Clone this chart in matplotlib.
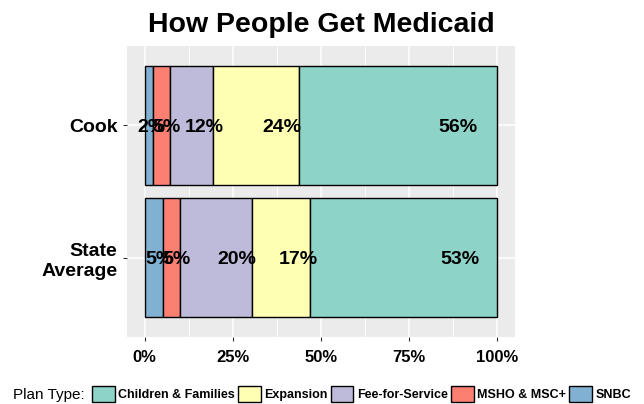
import matplotlib
matplotlib.use("Agg")
import matplotlib.pyplot as plt
from matplotlib.patches import Patch
import numpy as np

plt.rcParams['font.family'] = ['Liberation Sans', 'DejaVu Sans']

# data, drawn left to right inside each bar
categories = ["Cook", "State\nAverage"]
plan_types = ["SNBC", "MSHO & MSC+", "Fee-for-Service", "Expansion", "Children & Families"]
colors = ["#80B1D3", "#FB8072", "#BEBADA", "#FFFFB3", "#8DD3C7"]
cook_vals = [2.3, 4.8, 12.2, 24.4, 56.3]
state_vals = [5.1, 4.8, 20.4, 16.7, 53.0]
cook_labels = ["2%", "5%", "12%", "24%", "56%"]
state_labels = ["5%", "5%", "20%", "17%", "53%"]
legend_order = ["Children & Families", "Expansion", "Fee-for-Service", "MSHO & MSC+", "SNBC"]

fig = plt.figure(figsize=(6.44, 4.04), dpi=100)
ax = fig.add_axes([127/644, 1 - 337/404, (515-127)/644, (337-46)/404])
ax.set_facecolor("#EBEBEB")

ypos = [2, 1]
vals = [cook_vals, state_vals]
labs = [cook_labels, state_labels]
for y, v, lb in zip(ypos, vals, labs):
    left = 0
    for val, col, txt in zip(v, colors, lb):
        ax.barh(y, val, left=left, height=0.9, color=col, edgecolor="black", linewidth=1, zorder=3)
        ax.text(left + 0.8 * val, y, txt, ha="center", va="center_baseline",
                fontsize=14, fontweight="bold", zorder=4)
        left += val

ax.set_xlim(-5, 105)
ax.set_ylim(0.4, 2.6)
ax.set_xticks([0, 25, 50, 75, 100])
ax.set_xticklabels(["0%", "25%", "50%", "75%", "100%"], fontsize=12, fontweight="bold")
ax.set_xticks([12.5, 37.5, 62.5, 87.5], minor=True)
ax.set_yticks(ypos)
ax.set_yticklabels(categories, fontsize=14, fontweight="bold", linespacing=1.25)
ax.grid(True, which="major", color="white", linewidth=1.1, zorder=0)
ax.grid(True, which="minor", axis="x", color="white", linewidth=0.55, zorder=0)
ax.tick_params(axis="both", which="major", length=3, color="#333333", width=0.8)
ax.tick_params(axis="x", which="major", pad=6)
ax.tick_params(axis="y", which="major", pad=4)
ax.tick_params(which="minor", length=0)
for s in ax.spines.values():
    s.set_visible(False)
ax.set_axisbelow(True)

fig.text(321/644, 1 - 25/404, "How People Get Medicaid", ha="center", va="center",
         fontsize=20.5, fontweight="bold")

# legend
fig.text(13/644, 1 - 395/404, "Plan Type:", ha="left", va="center", fontsize=11)
handles = [Patch(facecolor=colors[plan_types.index(p)], edgecolor="black", linewidth=1)
           for p in legend_order]
leg = fig.legend(handles, legend_order, loc="center left", bbox_to_anchor=(92/644, 1 - 394/404),
                 ncol=5, frameon=False, handlelength=1.8, handleheight=1.6,
                 handletextpad=0.3, columnspacing=0.25, borderaxespad=0, borderpad=0,
                 prop={"weight": "bold", "size": 9})

fig.savefig("out.png", dpi=100)
